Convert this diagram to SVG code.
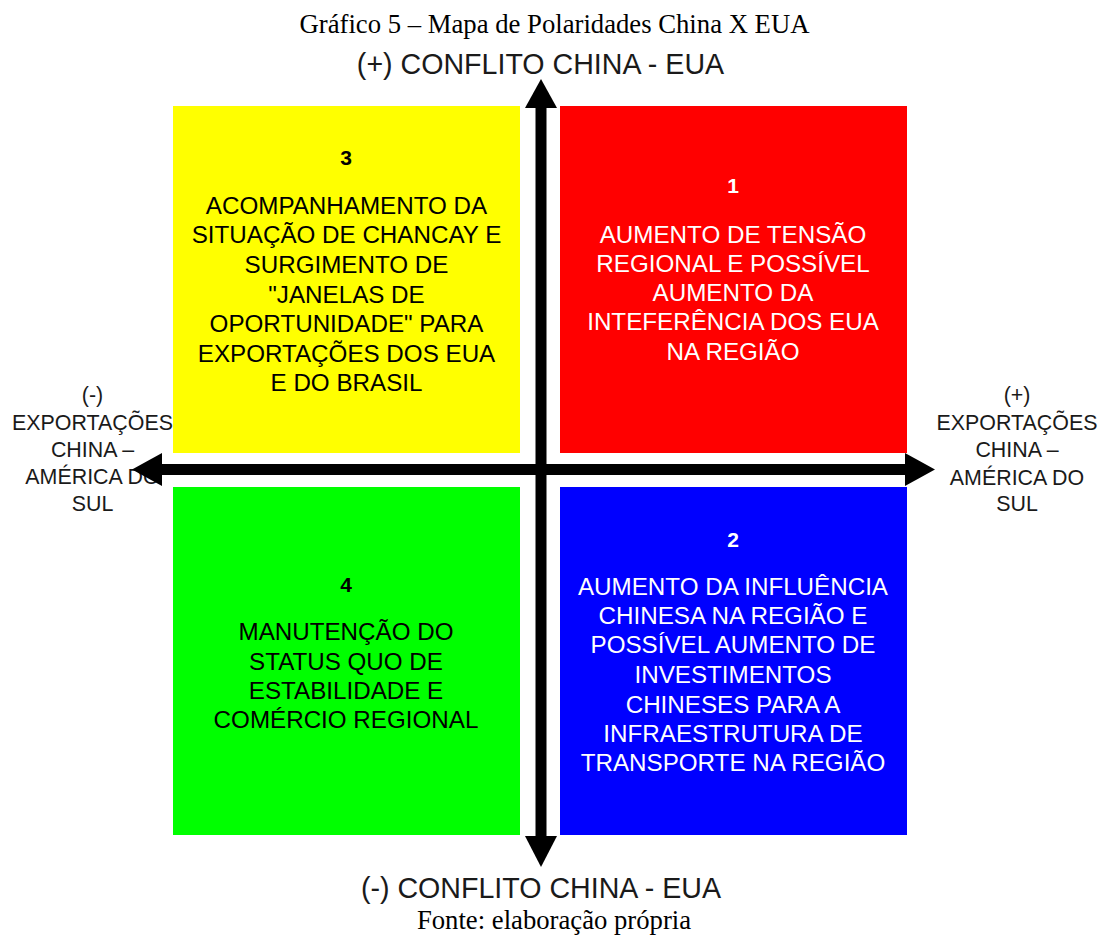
<svg xmlns="http://www.w3.org/2000/svg" width="1103" height="940" viewBox="0 0 1103 940">
<style>
.cap{font-family:"Liberation Serif","Times New Roman",serif;font-size:26.7px;fill:#000;text-anchor:middle}
.axis{font-family:"Liberation Sans",Arial,sans-serif;font-size:28.6px;fill:#1a1a1a;text-anchor:middle}
.side{font-family:"Liberation Sans",Arial,sans-serif;font-size:21.4px;fill:#1a1a1a;text-anchor:middle}
.q{font-family:"Liberation Sans",Arial,sans-serif;font-size:24.2px;text-anchor:middle}
.num{font-family:"Liberation Sans",Arial,sans-serif;font-size:21px;font-weight:bold;text-anchor:middle}
.dark{fill:#000}
.light{fill:#fff}
.line{fill:#000}
</style>
<rect x="0" y="0" width="1103" height="940" fill="#fff"/>
<g id="title">
<text class="cap" x="554.5" y="33">Gráfico 5 – Mapa de Polaridades China X EUA</text>
</g>
<g id="axis-top">
<text class="axis" x="540.5" y="74">(+) CONFLITO CHINA - EUA</text>
</g>
<g id="axis-bottom">
<text class="axis" x="541" y="898">(-) CONFLITO CHINA - EUA</text>
</g>
<g id="source">
<text class="cap" x="554" y="929">Fonte: elaboração própria</text>
</g>
<g id="axis-left">
<text class="side" x="92.5" y="402">(-)</text>
<text class="side" x="92.5" y="430">EXPORTAÇÕES</text>
<text class="side" x="92.5" y="457">CHINA –</text>
<text class="side" x="92.5" y="484">AMÉRICA DO</text>
<text class="side" x="92.5" y="511">SUL</text>
</g>
<g id="axis-right">
<text class="side" x="1017" y="402">(+)</text>
<text class="side" x="1017" y="430">EXPORTAÇÕES</text>
<text class="side" x="1017" y="457">CHINA –</text>
<text class="side" x="1017" y="485">AMÉRICA DO</text>
<text class="side" x="1017" y="511">SUL</text>
</g>
<g id="q3">
<rect x="173" y="106" width="347" height="347" fill="#ffff00"/>
<text class="num dark" x="346" y="165">3</text>
<text class="q dark" x="346.5" y="214">ACOMPANHAMENTO DA</text>
<text class="q dark" x="346.5" y="243">SITUAÇÃO DE CHANCAY E</text>
<text class="q dark" x="346.5" y="273">SURGIMENTO DE</text>
<text class="q dark" x="346.5" y="303">"JANELAS DE</text>
<text class="q dark" x="346.5" y="332">OPORTUNIDADE" PARA</text>
<text class="q dark" x="346.5" y="362">EXPORTAÇÕES DOS EUA</text>
<text class="q dark" x="346.5" y="391">E DO BRASIL</text>
</g>
<g id="q1">
<rect x="560" y="106" width="347" height="347" fill="#ff0000"/>
<text class="num light" x="733" y="193">1</text>
<text class="q light" x="733" y="243">AUMENTO DE TENSÃO</text>
<text class="q light" x="733" y="272">REGIONAL E POSSÍVEL</text>
<text class="q light" x="733" y="301">AUMENTO DA</text>
<text class="q light" x="733" y="330">INTEFERÊNCIA DOS EUA</text>
<text class="q light" x="733" y="360">NA REGIÃO</text>
</g>
<g id="q4">
<rect x="173" y="487" width="347" height="348" fill="#00ff00"/>
<text class="num dark" x="346" y="592">4</text>
<text class="q dark" x="346" y="640">MANUTENÇÃO DO</text>
<text class="q dark" x="346" y="670">STATUS QUO DE</text>
<text class="q dark" x="346" y="699">ESTABILIDADE E</text>
<text class="q dark" x="346" y="728">COMÉRCIO REGIONAL</text>
</g>
<g id="q2">
<rect x="560" y="487" width="347" height="348" fill="#0000ff"/>
<text class="num light" x="733" y="547">2</text>
<text class="q light" x="733" y="595">AUMENTO DA INFLUÊNCIA</text>
<text class="q light" x="733" y="624">CHINESA NA REGIÃO E</text>
<text class="q light" x="733" y="653">POSSÍVEL AUMENTO DE</text>
<text class="q light" x="733" y="683">INVESTIMENTOS</text>
<text class="q light" x="733" y="713">CHINESES PARA A</text>
<text class="q light" x="733" y="742">INFRAESTRUTURA DE</text>
<text class="q light" x="733" y="771">TRANSPORTE NA REGIÃO</text>
</g>
<g id="connectors">
<rect class="line" x="535.5" y="104" width="11" height="734"/>
<rect class="line" x="160" y="464" width="747" height="11"/>
<polygon class="line" points="541,79 525,108 557,108"/>
<polygon class="line" points="541,867 525,836 557,836"/>
<polygon class="line" points="132,469.5 162,453 162,486"/>
<polygon class="line" points="935,469.5 905,453 905,486"/>
</g>
</svg>
